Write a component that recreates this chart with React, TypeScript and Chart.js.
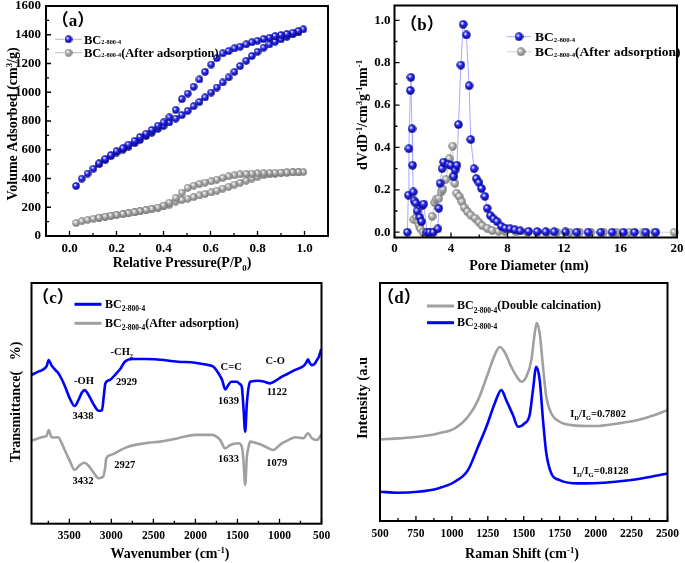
import React, { useEffect, useRef } from 'react';
import { Chart, registerables } from 'chart.js';
Chart.register(...registerables);

const SERIF = "'Liberation Serif', 'Times New Roman', 'Noto Sans CJK SC', serif";
const BLUE = '#0000ff';
const GREY = '#a0a0a0';

// ---------- (a) N2 isotherms ----------
const aPressureAds = [0.028, 0.052, 0.077, 0.102, 0.126, 0.152, 0.176, 0.2, 0.227, 0.251, 0.277, 0.3, 0.326, 0.35, 0.376, 0.4, 0.425, 0.452, 0.478, 0.503, 0.528, 0.553, 0.577, 0.603, 0.627, 0.652, 0.677, 0.702, 0.726, 0.752, 0.776, 0.8, 0.826, 0.851, 0.875, 0.9, 0.925, 0.95, 0.974, 0.995];
const aBlueAds = [348, 399, 434, 469, 499, 527, 555, 580, 600, 620, 645, 668, 695, 718, 745, 765, 790, 817, 841, 871, 903, 933, 964, 998, 1033, 1068, 1103, 1142, 1182, 1219, 1252, 1282, 1310, 1333, 1351, 1368, 1386, 1402, 1416, 1437];
const aGreyAds = [90, 103, 112, 120, 127, 134, 140, 146, 152, 158, 164, 171, 179, 187, 196, 206, 218, 240, 250, 260, 270, 282, 292, 303, 316, 330, 343, 357, 370, 385, 400, 412, 422, 428, 433, 437, 440, 442, 443, 445];
const aPressureDes = [0.974, 0.95, 0.925, 0.9, 0.875, 0.851, 0.826, 0.8, 0.776, 0.752, 0.726, 0.702, 0.677, 0.652, 0.627, 0.603, 0.577, 0.553, 0.528, 0.503, 0.478, 0.452, 0.425, 0.4, 0.376, 0.35, 0.326, 0.3, 0.277, 0.251, 0.227, 0.2, 0.176, 0.152, 0.126];
const aBlueDes = [1426, 1414, 1405, 1398, 1391, 1379, 1370, 1358, 1347, 1333, 1317, 1305, 1286, 1270, 1237, 1193, 1142, 1089, 1038, 991, 952, 877, 825, 790, 768, 738, 712, 688, 662, 636, 610, 590, 562, 536, 505];
const aGreyDes = [445, 444, 442, 441, 440, 439, 437, 436, 434, 432, 428, 422, 415, 404, 392, 380, 372, 362, 350, 335, 302, 265, 232, 212, 198, 189, 181, 173, 166, 159, 153, 147, 141, 135, 128];
const aXTicks = [0, 0.2, 0.4, 0.6, 0.8, 1.0];
const aXMinor = [0.1, 0.3, 0.5, 0.7, 0.9];
const aYTicks = [0, 200, 400, 600, 800, 1000, 1200, 1400, 1600];
const aYMinor = [100, 300, 500, 700, 900, 1100, 1300, 1500];

// ---------- (b) pore size distribution ----------
const bBlueX = [0.91, 0.98, 1.02, 1.12, 1.16, 1.24, 1.28, 1.33, 1.40, 1.51, 1.60, 1.79, 1.91, 1.98, 2.07, 2.3, 2.5, 2.75, 3.07, 3.14, 3.23, 3.37, 3.47, 3.84, 4.0, 4.19, 4.3, 4.42, 4.53, 4.7, 4.86, 5.09, 5.28, 5.4, 5.63, 5.79, 5.98, 6.16, 6.4, 6.56, 6.79, 7.02, 7.26, 7.56, 7.84, 8.19, 8.53, 8.9, 9.5, 10.1, 10.7, 11.3, 12.1, 12.9, 13.7, 14.6, 15.4, 16.2, 17.0, 17.8, 18.5];
const bBlueY = [0, 0.175, 0.394, 0.669, 0.731, 0.488, 0.316, 0.19, 0.148, 0.137, 0.10, 0.07, 0.05, 0.128, 0.133, 0, 0, 0, 0.016, 0.113, 0.231, 0.30, 0.331, 0.32, 0.316, 0.262, 0.294, 0.316, 0.508, 0.789, 0.981, 0.931, 0.691, 0.4375, 0.30, 0.253, 0.234, 0.206, 0.169, 0.1125, 0.078, 0.0625, 0.05, 0.028, 0.019, 0.016, 0.011, 0.006, 0.004, 0.003, 0.002, 0.002, 0.001, 0, 0, 0, 0, 0, 0, 0, 0];
const bGreyX = [1.37, 1.56, 1.67, 1.74, 1.84, 2.02, 2.26, 2.49, 2.67, 2.84, 2.95, 3.14, 3.3, 3.42, 3.65, 3.88, 4.12, 4.19, 4.28, 4.4, 4.58, 4.77, 4.93, 5.16, 5.4, 5.7, 5.98, 6.21, 6.56, 6.91, 7.37, 7.84, 8.6, 9.4, 10.1, 10.8, 11.5, 12.4, 13.1, 13.9, 14.8, 15.7, 16.6, 17.6, 18.4, 19.8];
const bGreyY = [0.06, 0.07, 0.047, 0.031, 0.016, 0, 0, 0, 0.075, 0.14, 0.156, 0.16, 0.19, 0.203, 0.25, 0.347, 0.406, 0.269, 0.23, 0.184, 0.169, 0.144, 0.117, 0.097, 0.081, 0.066, 0.047, 0.031, 0.019, 0.008, 0.005, 0.003, 0.002, 0, 0, 0, 0, 0, 0, 0, 0, 0, 0, 0, 0, 0];
const bXTicks = [0, 4, 8, 12, 16, 20];
const bXMinor = [2, 6, 10, 14, 18];
const bYTicks = [0, 0.2, 0.4, 0.6, 0.8, 1.0];
const bYMinor = [0.1, 0.3, 0.5, 0.7, 0.9];

// ---------- (c) FTIR ----------
const cBlueWave = [3950, 3880, 3820, 3770, 3745, 3714, 3670, 3630, 3590, 3550, 3500, 3436, 3390, 3350, 3317, 3280, 3218, 3150, 3111, 3090, 3071, 3019, 2940, 2890, 2840, 2742, 2600, 2483, 2206, 2004, 1860, 1786, 1726, 1680, 1646, 1610, 1575, 1507, 1470, 1448, 1429, 1408, 1388, 1370, 1349, 1250, 1180, 1111, 1040, 971, 900, 813, 714, 680, 661, 640, 614, 580, 554, 530, 503];
const cBlueVal = [61.8, 63.0, 63.9, 65.5, 68.0, 65.9, 64.0, 62.5, 60.0, 56.9, 52.5, 48.9, 51.5, 54.5, 55.5, 54.0, 50.0, 46.9, 47.2, 53.0, 58.3, 59.7, 62.5, 64.5, 67.3, 68.4, 68.4, 68.3, 67.3, 66.9, 66.0, 65.2, 62.5, 59.5, 55.8, 57.5, 59.0, 59.0, 58.0, 56.9, 48.6, 38.2, 50.0, 56.0, 59.0, 59.4, 59.0, 58.3, 59.5, 61.1, 62.3, 63.9, 65.5, 67.0, 68.3, 66.8, 65.9, 66.5, 68.0, 69.5, 72.5];
const cGreyWave = [3950, 3880, 3833, 3770, 3745, 3714, 3670, 3635, 3590, 3555, 3500, 3436, 3380, 3317, 3270, 3218, 3150, 3099, 3075, 3060, 3010, 2960, 2880, 2801, 2602, 2400, 2206, 2004, 1805, 1706, 1646, 1587, 1488, 1448, 1429, 1408, 1388, 1370, 1349, 1280, 1210, 1140, 1071, 1020, 971, 890, 813, 714, 661, 614, 554, 503];
const cGreyVal = [34.5, 35.3, 35.9, 36.5, 38.9, 36.1, 35.8, 35.9, 33.5, 30.6, 26.5, 22.3, 24.2, 25.3, 24.0, 21.6, 18.9, 19.5, 23.0, 27.2, 28.5, 29.2, 30.8, 32.0, 33.4, 34.2, 35.5, 36.9, 36.9, 34.8, 31.3, 32.7, 33.4, 32.0, 26.5, 16.1, 27.8, 31.5, 34.1, 33.5, 32.7, 31.5, 30.6, 32.0, 33.4, 34.8, 35.9, 35.5, 37.6, 35.5, 34.8, 36.9];
const cXTicks = [3500, 3000, 2500, 2000, 1500, 1000, 500];
const cXMinor = [3750, 3250, 2750, 2250, 1750, 1250, 750];
const cNoteText = ['-OH', '3438', '-CH', '2929', 'C=C', '1639', 'C-O', '1122', '3432', '2927', '1633', '1079'];
const cNoteWave = [3325, 3337, 2875, 2821, 1575, 1607, 1051, 1031, 3337, 2840, 1607, 1031];
const cNoteVal = [59.7, 45.2, 71.5, 59.0, 65.2, 51.4, 67.7, 54.8, 18.2, 24.8, 27.2, 25.3];

// ---------- (d) Raman ----------
const dGreyShift = [505, 625, 764, 903, 1020, 1112, 1182, 1251, 1298, 1333, 1367, 1413, 1460, 1483, 1518, 1553, 1576, 1590, 1611, 1634, 1657, 1692, 1750, 1831, 1994, 2156, 2295, 2411, 2500];
const dGreyVal = [34.3, 34.7, 35.4, 36.8, 38.9, 43.8, 50.8, 62.0, 69.7, 73.1, 71.0, 64.8, 59.9, 58.5, 60.6, 67.6, 78.8, 83.2, 78.8, 64.8, 52.2, 45.2, 41.7, 40.3, 39.9, 41.0, 42.4, 44.5, 46.6];
const dBlueShift = [505, 625, 764, 903, 1020, 1112, 1182, 1240, 1298, 1344, 1378, 1425, 1460, 1506, 1541, 1564, 1587, 1611, 1634, 1657, 1692, 1750, 1878, 2063, 2248, 2387, 2500];
const dBlueVal = [12.3, 11.9, 12.3, 13.7, 16.5, 21.4, 31.2, 39.6, 49.4, 55.0, 50.8, 44.5, 39.6, 41.0, 44.5, 55.0, 64.8, 59.2, 42.4, 28.4, 20.0, 17.2, 15.8, 16.1, 17.2, 18.6, 20.0];
const dXTicks = [500, 750, 1000, 1250, 1500, 1750, 2000, 2250, 2500];
const dXMinor = [625, 875, 1125, 1375, 1625, 1875, 2125, 2375];
const dNoteRatio = ['0.7802', '0.8128'];
const dNoteShift = [2017, 2035];
const dNoteVal = [45.2, 21.1];

// ---------- helpers ----------
type Part = [string, string?];

function drawRich(ctx: CanvasRenderingContext2D, parts: Part[], x: number, y: number, size: number, align = 'center', rotate = false, color = '#000') {
  const spec = (k?: string) =>
    k === 'sub' ? { s: size * 0.62, dy: size * 0.28 } :
    k === 'sup' ? { s: size * 0.62, dy: -size * 0.38 } :
    k === 'tiny' ? { s: size * 0.5, dy: size * 0.02 } : { s: size, dy: 0 };
  ctx.save();
  ctx.translate(x, y);
  if (rotate) ctx.rotate(-Math.PI / 2);
  ctx.fillStyle = color;
  ctx.textBaseline = 'alphabetic';
  ctx.textAlign = 'left';
  let w = 0;
  for (const p of parts) {
    const sp = spec(p[1]);
    ctx.font = `bold ${sp.s}px ${SERIF}`;
    w += ctx.measureText(p[0]).width;
  }
  let cx = align === 'center' ? -w / 2 : align === 'right' ? -w : 0;
  const base = size * 0.35;
  for (const p of parts) {
    const sp = spec(p[1]);
    ctx.font = `bold ${sp.s}px ${SERIF}`;
    ctx.fillText(p[0], cx, base + sp.dy);
    cx += ctx.measureText(p[0]).width;
  }
  ctx.restore();
}

function sphere(d: number, base: string, dark: string) {
  const c = document.createElement('canvas');
  c.width = d; c.height = d;
  const g = c.getContext('2d')!;
  const gr = g.createRadialGradient(d * 0.36, d * 0.34, d * 0.04, d * 0.5, d * 0.5, d * 0.5);
  gr.addColorStop(0, '#ffffff');
  gr.addColorStop(0.38, base);
  gr.addColorStop(1, dark);
  g.fillStyle = gr;
  g.beginPath();
  g.arc(d / 2, d / 2, d / 2 - 0.3, 0, Math.PI * 2);
  g.fill();
  return c;
}

function xAxis(min: number, max: number, ticks: number[], H: number, B: number, size: number, pad: number, fmt: (v: number) => string, reverse = false) {
  return {
    type: 'linear', min, max, reverse,
    grid: { display: false, drawTicks: false },
    border: { display: false },
    ticks: { color: '#000', font: { family: SERIF, size, weight: 'bold' }, padding: pad, maxRotation: 0, autoSkip: false, callback: (v: number) => fmt(v) },
    afterBuildTicks: (s: any) => { s.ticks = ticks.map((v) => ({ value: v })); },
    afterFit: (s: any) => { s.height = H - B; s.paddingLeft = 0; s.paddingRight = 0; s.paddingTop = 0; s.paddingBottom = 0; },
  };
}

function yAxis(min: number, max: number, ticks: number[], L: number, size: number, pad: number, fmt: (v: number) => string, show = true) {
  return {
    type: 'linear', min, max,
    grid: { display: false, drawTicks: false },
    border: { display: false },
    ticks: { display: show, color: '#000', font: { family: SERIF, size, weight: 'bold' }, padding: pad, autoSkip: false, callback: (v: number) => fmt(v) },
    afterBuildTicks: (s: any) => { s.ticks = ticks.map((v) => ({ value: v })); },
    afterFit: (s: any) => { s.width = L; s.paddingLeft = 0; s.paddingRight = 0; s.paddingTop = 0; s.paddingBottom = 0; },
  };
}

function deco(xMajor: number[], xMinor: number[], yMajor: number[], yMinor: number[], extra: (ctx: CanvasRenderingContext2D, chart: any) => void) {
  return {
    id: 'deco',
    afterDraw(chart: any) {
      const ctx = chart.ctx as CanvasRenderingContext2D;
      const { left, right, top, bottom } = chart.chartArea;
      const xs = chart.scales.x, ys = chart.scales.y;
      ctx.save();
      ctx.strokeStyle = '#000';
      ctx.lineWidth = 1.3;
      ctx.beginPath();
      const xt = (v: number, len: number) => { const p = xs.getPixelForValue(v); ctx.moveTo(p, bottom); ctx.lineTo(p, bottom - len); };
      const yt = (v: number, len: number) => { const p = ys.getPixelForValue(v); ctx.moveTo(left, p); ctx.lineTo(left + len, p); };
      xMajor.forEach((v) => xt(v, 5));
      xMinor.forEach((v) => xt(v, 3));
      yMajor.forEach((v) => yt(v, 5));
      yMinor.forEach((v) => yt(v, 3));
      ctx.stroke();
      ctx.lineWidth = 2;
      ctx.strokeRect(left, top, right - left, bottom - top);
      ctx.restore();
      ctx.save();
      extra(ctx, chart);
      ctx.restore();
    },
  };
}

const pts = (xs: number[], ys: number[]) => xs.map((x, i) => ({ x, y: ys[i] }));

function baseOptions(W: number, H: number, L: number, R: number, T: number, scales: any) {
  return {
    animation: false,
    responsive: false,
    events: [],
    layout: { padding: { left: 0, top: T, right: W - R, bottom: 0 } },
    plugins: { legend: { display: false }, tooltip: { enabled: false } },
    scales,
  };
}

function legendLine(ctx: CanvasRenderingContext2D, x1: number, x2: number, y: number, color: string, w: number) {
  ctx.strokeStyle = color;
  ctx.lineWidth = w;
  ctx.beginPath();
  ctx.moveTo(x1, y);
  ctx.lineTo(x2, y);
  ctx.stroke();
}

// ---------- panels ----------
const PANELS = [
  {
    X: 0, Y: 0, W: 342, H: 281,
    config: () => {
      const W = 342, H = 281, L = 46, R = 328, T = 6, B = 236;
      const blueBall = sphere(8, '#2a2aff', '#00006e');
      const greyBall = sphere(8, '#b4b4b4', '#6a6a6a');
      return {
        type: 'line',
        data: {
          datasets: [
            { data: pts(aPressureAds, aBlueAds).concat(pts(aPressureDes, aBlueDes)), showLine: true, borderColor: 'rgba(140,140,255,0.6)', borderWidth: 1, pointStyle: blueBall, pointRadius: 4, tension: 0 },
            { data: pts(aPressureAds, aGreyAds).concat(pts(aPressureDes, aGreyDes)), showLine: true, borderColor: 'rgba(190,190,190,0.8)', borderWidth: 1, pointStyle: greyBall, pointRadius: 4, tension: 0 },
          ],
        },
        options: baseOptions(W, H, L, R, T, {
          x: xAxis(-0.1, 1.1, aXTicks, H, B, 13, 5, (v) => v.toFixed(1)),
          y: yAxis(0, 1600, aYTicks, L, 13, 5, (v) => String(v)),
        }),
        plugins: [deco(aXTicks, aXMinor, aYTicks, aYMinor, (ctx) => {
          drawRich(ctx, [['（a）']], 73, 20, 17);
          legendLine(ctx, 55, 82, 39.3, '#b8b8b8', 1);
          ctx.drawImage(blueBall, 68.5 - 4, 39.3 - 4);
          drawRich(ctx, [['BC'], ['2-800-4', 'tiny']], 84, 39.3, 12.5, 'left');
          legendLine(ctx, 55, 82, 52.7, '#b8b8b8', 1);
          ctx.drawImage(greyBall, 68.5 - 4, 52.7 - 4);
          drawRich(ctx, [['BC'], ['2-800-4', 'tiny'], ['(After adsorption)']], 84, 52.7, 12.5, 'left');
          drawRich(ctx, [['Relative Pressure(P/P'], ['0', 'sub'], [')']], 182, 262, 14);
          drawRich(ctx, [['Volume Adsorbed (cm'], ['3', 'sup'], ['/g)']], 12, 124, 14, 'center', true);
        })],
      };
    },
  },
  {
    X: 342, Y: 0, W: 343, H: 281,
    config: () => {
      const W = 343, H = 281, L = 52.5, R = 335, T = 5, B = 237.5;
      const blueBall = sphere(9, '#2a2aff', '#00006e');
      const greyBall = sphere(9, '#b4b4b4', '#6a6a6a');
      return {
        type: 'line',
        data: {
          datasets: [
            { data: pts(bBlueX, bBlueY), showLine: true, borderColor: '#a8a8ff', borderWidth: 1, pointStyle: blueBall, pointRadius: 4.5, tension: 0, clip: 6 },
            { data: pts(bGreyX, bGreyY), showLine: true, borderColor: '#cfcfcf', borderWidth: 1, pointStyle: greyBall, pointRadius: 4.5, tension: 0, clip: 6 },
          ],
        },
        options: baseOptions(W, H, L, R, T, {
          x: xAxis(0, 20, bXTicks, H, B, 13, 3, (v) => String(v)),
          y: yAxis(-0.025, 1.07, bYTicks, L, 13, 4, (v) => v.toFixed(1)),
        }),
        plugins: [deco(bXTicks, bXMinor, bYTicks, bYMinor, (ctx) => {
          drawRich(ctx, [['（b）']], 80, 24, 17);
          legendLine(ctx, 165, 189, 36.7, '#a8a8ff', 1);
          ctx.drawImage(blueBall, 177 - 4.5, 36.7 - 4.5);
          drawRich(ctx, [['BC'], ['2-800-4', 'tiny']], 193, 36.7, 13.5, 'left');
          legendLine(ctx, 165, 189, 51.7, '#cfcfcf', 1);
          ctx.drawImage(greyBall, 179 - 4.5, 51.7 - 4.5);
          drawRich(ctx, [['BC'], ['2-800-4', 'tiny'], ['(After adsorption)']], 193, 51.7, 13.5, 'left');
          drawRich(ctx, [['Pore Diameter (nm)']], 187, 265, 14);
          drawRich(ctx, [['dVdD'], ['-1', 'sup'], ['/cm'], ['3', 'sup'], ['g'], ['-1', 'sup'], ['nm'], ['-1', 'sup']], 20, 115, 14, 'center', true);
        })],
      };
    },
  },
  {
    X: 0, Y: 281, W: 342, H: 282,
    config: () => {
      const W = 342, H = 282, L = 31.5, R = 321.5, T = 2, B = 242.7;
      return {
        type: 'line',
        data: {
          datasets: [
            { data: pts(cBlueWave, cBlueVal), borderColor: BLUE, borderWidth: 2.6, pointRadius: 0, cubicInterpolationMode: 'monotone' },
            { data: pts(cGreyWave, cGreyVal), borderColor: GREY, borderWidth: 2.6, pointRadius: 0, cubicInterpolationMode: 'monotone' },
          ],
        },
        options: baseOptions(W, H, L, R, T, {
          x: xAxis(500, 3950, cXTicks, H, B, 11.5, 5, (v) => String(v), true),
          y: yAxis(0, 100, [], L, 11, 4, (v) => String(v), false),
        }),
        plugins: [deco(cXTicks, cXMinor, [], [], (ctx, chart) => {
          const xs = chart.scales.x, ys = chart.scales.y;
          drawRich(ctx, [['（c）']], 53, 16, 17);
          legendLine(ctx, 74.5, 101.5, 23.3, BLUE, 3);
          drawRich(ctx, [['BC'], ['2-800-4', 'sub']], 105, 22.3, 12, 'left');
          legendLine(ctx, 74.5, 101.5, 42.3, GREY, 3);
          drawRich(ctx, [['BC'], ['2-800-4', 'sub'], ['(After adsorption)']], 105, 41.3, 12, 'left');
          cNoteText.forEach((t, i) => {
            const px = xs.getPixelForValue(cNoteWave[i]);
            const py = ys.getPixelForValue(cNoteVal[i]);
            const parts: Part[] = t === '-CH' ? [['-CH'], ['2', 'sub']] : [[t]];
            drawRich(ctx, parts, px, py, 10.5);
          });
          drawRich(ctx, [['Wavenumber (cm'], ['-1', 'sup'], [')']], 170, 272, 14);
          drawRich(ctx, [['Transmittance(   %)']], 15, 121, 14, 'center', true);
        })],
      };
    },
  },
  {
    X: 342, Y: 281, W: 343, H: 282,
    config: () => {
      const W = 343, H = 282, L = 38, R = 325.5, T = 2, B = 240;
      return {
        type: 'line',
        data: {
          datasets: [
            { data: pts(dBlueShift, dBlueVal), borderColor: BLUE, borderWidth: 2.6, pointRadius: 0, cubicInterpolationMode: 'monotone' },
            { data: pts(dGreyShift, dGreyVal), borderColor: GREY, borderWidth: 2.6, pointRadius: 0, cubicInterpolationMode: 'monotone' },
          ],
        },
        options: baseOptions(W, H, L, R, T, {
          x: xAxis(500, 2500, dXTicks, H, B, 11.5, 6, (v) => String(v)),
          y: yAxis(0, 100, [], L, 11, 4, (v) => String(v), false),
        }),
        plugins: [deco(dXTicks, dXMinor, [], [], (ctx, chart) => {
          const xs = chart.scales.x, ys = chart.scales.y;
          drawRich(ctx, [['（d）']], 57, 16, 17);
          legendLine(ctx, 85, 112, 25, GREY, 3);
          drawRich(ctx, [['BC'], ['2-800-4', 'sub'], ['(Double calcination)']], 115, 24, 12, 'left');
          legendLine(ctx, 85, 112, 41.7, BLUE, 3);
          drawRich(ctx, [['BC'], ['2-800-4', 'sub']], 115, 40.7, 12, 'left');
          dNoteRatio.forEach((r, i) => {
            drawRich(ctx, [['I'], ['D', 'sub'], ['/I'], ['G', 'sub'], ['=' + r]], xs.getPixelForValue(dNoteShift[i]), ys.getPixelForValue(dNoteVal[i]), 10.5);
          });
          drawRich(ctx, [['Raman Shift (cm'], ['-1', 'sup'], [')']], 180, 272, 14);
          drawRich(ctx, [['Intensity (a.u']], 20, 117, 14.5, 'center', true);
        })],
      };
    },
  },
];

export default function App() {
  const r0 = useRef<HTMLCanvasElement>(null);
  const r1 = useRef<HTMLCanvasElement>(null);
  const r2 = useRef<HTMLCanvasElement>(null);
  const r3 = useRef<HTMLCanvasElement>(null);
  const refs = [r0, r1, r2, r3];
  useEffect(() => {
    const charts = PANELS.map((p, i) => new Chart(refs[i].current as HTMLCanvasElement, p.config() as any));
    return () => charts.forEach((c) => c.destroy());
  }, []);
  return (
    <div style={{ position: 'absolute', left: 0, top: 0, width: 685, height: 563, background: '#fff', overflow: 'hidden' }}>
      {PANELS.map((p, i) => (
        <canvas key={i} ref={refs[i]} width={p.W} height={p.H} style={{ position: 'absolute', left: p.X, top: p.Y, width: p.W, height: p.H, display: 'block' }} />
      ))}
    </div>
  );
}
